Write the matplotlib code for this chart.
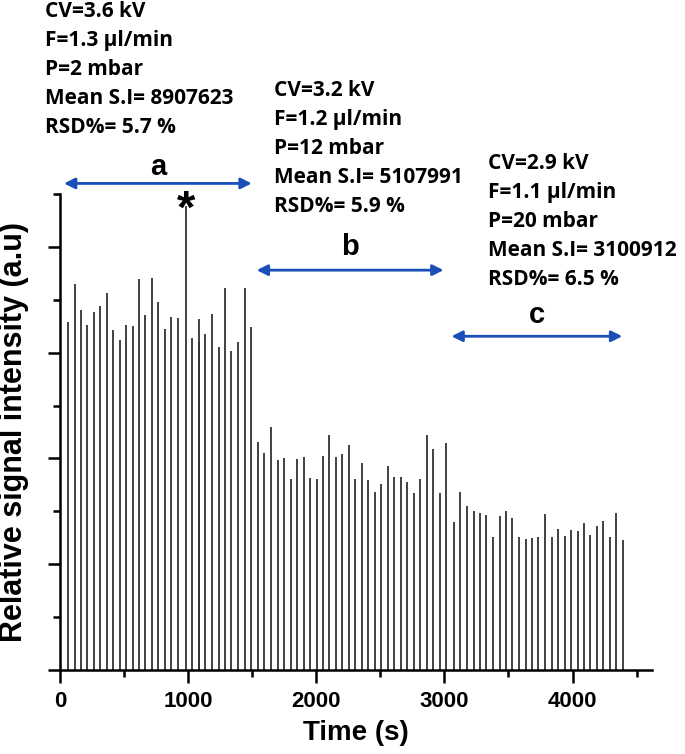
import matplotlib
matplotlib.use('Agg')
import matplotlib.pyplot as plt
from matplotlib.ticker import MultipleLocator

# injection times (s) and peak heights (a.u.)
time_s = [62, 115, 164, 214, 266, 315, 365, 417, 466, 516, 568, 617, 667, 719,
          768, 820, 870, 922, 984, 1034, 1083, 1088, 1133, 1185, 1237, 1286, 1336,
          1388, 1440, 1490,
          1542, 1594, 1646, 1698, 1747, 1799, 1852, 1901, 1951, 2003, 2052, 2102,
          2154, 2203, 2253, 2305, 2354, 2406, 2456, 2505, 2560, 2609, 2661, 2711,
          2760, 2812, 2865, 2914, 2964, 3013, 3073, 3122,
          3177, 3227, 3279, 3328, 3380, 3430, 3482, 3531, 3583, 3633, 3685, 3734,
          3784, 3836, 3885, 3938, 3987, 4039, 4089, 4138, 4190, 4240, 4292, 4341,
          4393]
signal = [6.58, 7.30, 6.81, 6.53, 6.76, 6.89, 7.12, 6.42, 6.24, 6.52, 6.50, 7.40,
          6.72, 7.42, 6.96, 6.45, 6.67, 6.66, 8.77, 6.28, 6.64, 6.21, 6.35, 6.73,
          6.10, 7.23, 6.04, 6.21, 7.23, 6.49,
          4.32, 4.11, 4.59, 3.97, 4.00, 3.62, 3.99, 4.02, 3.63, 3.62, 4.05, 4.44,
          4.03, 4.08, 4.25, 3.62, 3.91, 3.60, 3.37, 3.51, 3.85, 3.65, 3.64, 3.55,
          3.35, 3.62, 4.45, 4.17, 3.34, 4.30, 2.80, 3.36,
          3.11, 3.00, 2.97, 2.94, 2.52, 2.91, 3.01, 2.88, 2.51, 2.47, 2.49, 2.51,
          2.95, 2.51, 2.67, 2.53, 2.65, 2.63, 2.77, 2.56, 2.73, 2.82, 2.52, 2.96,
          2.46]

# conditions of the three segments
segment_names = ['a', 'b', 'c']
segment_span = [(31, 1496), (1535, 2993), (3055, 4388)]
segment_notes = [
    ['CV=3.6 kV', 'F=1.3 \u00b5l/min', 'P=2 mbar', 'Mean S.I= 8907623', 'RSD%= 5.7 %'],
    ['CV=3.2 kV', 'F=1.2 \u00b5l/min', 'P=12 mbar', 'Mean S.I= 5107991', 'RSD%= 5.9 %'],
    ['CV=2.9 kV', 'F=1.1 \u00b5l/min', 'P=20 mbar', 'Mean S.I= 3100912', 'RSD%= 6.5 %'],
]
star_time = 984
star_signal = 8.77

W, H = 685, 754
BLUE = '#1a4fb8'
AX_FONT = 'Liberation Sans'
NOTE_FONT = ['Open Sans', 'DejaVu Sans']

fig = plt.figure(figsize=(W / 100, H / 100), dpi=100)
ax = fig.add_axes([60 / W, 1 - 670 / H, (652 - 60) / W, (670 - 194) / H])

ax.vlines(time_s, 0, signal, color='#333333', lw=1.3)

ax.set_xlim(0, 4620)
ax.set_ylim(0, 9)
ax.xaxis.set_major_locator(MultipleLocator(1000))
ax.xaxis.set_minor_locator(MultipleLocator(500))
ax.yaxis.set_major_locator(MultipleLocator(2))
ax.yaxis.set_minor_locator(MultipleLocator(1))
ax.set_yticklabels([])
for side in ['top', 'right']:
    ax.spines[side].set_visible(False)
for side in ['left', 'bottom']:
    ax.spines[side].set_linewidth(1.8)
ax.tick_params(which='major', length=9, width=1.8, direction='out')
ax.tick_params(which='minor', length=5, width=1.8, direction='out')
ax.tick_params(axis='x', labelsize=16, pad=6)
for lab in ax.get_xticklabels():
    lab.set_fontfamily(AX_FONT)
    lab.set_fontweight('bold')

ax.set_xlabel('Time (s)', fontsize=20, fontweight='bold', family=AX_FONT, labelpad=6)
ax.set_ylabel('Relative signal intensity (a.u)', fontsize=22, fontweight='bold',
              family=AX_FONT, labelpad=10)

# segment arrows and letters
arrow_y = [9.2, 7.56, 6.31]
letter_y = [9.51, 8.0, 6.71]
for name, (t0, t1), ay, ly in zip(segment_names, segment_span, arrow_y, letter_y):
    ax.annotate('', xy=(t1, ay), xytext=(t0, ay), annotation_clip=False,
                arrowprops=dict(arrowstyle='<|-|>', color=BLUE, lw=2,
                                mutation_scale=16, shrinkA=0, shrinkB=0))
    ax.text((t0 + t1) / 2, ly, name, ha='center', va='center', fontsize=21,
            fontweight='bold', family=AX_FONT, clip_on=False)

ax.text(star_time, star_signal - 0.5, '*', ha='center', va='bottom', fontsize=34,
        fontweight='bold', family=AX_FONT)

# condition notes
note_pos = [(45, 1), (274, 80), (488, 153)]
for (x, y), lines in zip(note_pos, segment_notes):
    fig.text(x / W, 1 - y / H, '\n'.join(lines), ha='left', va='top', fontsize=15,
             fontweight='bold', family=NOTE_FONT, linespacing=1.5)

fig.savefig('out.png', dpi=100)
